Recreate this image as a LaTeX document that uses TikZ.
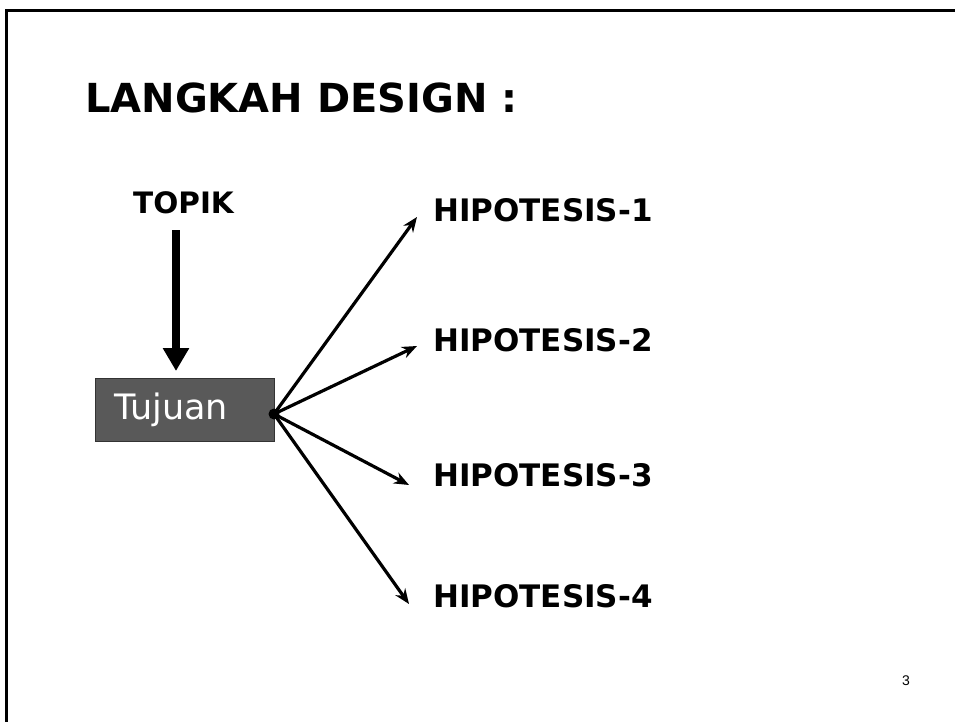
\documentclass[tikz,border=0pt]{standalone}
\usepackage{fontspec}
\setmainfont{DejaVu Sans}
\newfontfamily\numfont{Liberation Sans}
\usetikzlibrary{arrows.meta}
\begin{document}
\begin{tikzpicture}[x=1pt,y=-1pt,
  frameline/.style={line width=3pt, line cap=rect},
  label/.style={inner sep=0pt, anchor=base west, font=\bfseries\fontsize{31}{31}\selectfont},
  fan/.style={line width=3.2pt, -{Stealth[length=15pt,width=12pt]}},
  bigarrow/.style={line width=8pt, -{Triangle[length=23pt,width=25pt]}}]
\useasboundingbox (0,0) rectangle (955,722);
\draw[frameline] (955,11) -- (6,11) -- (6,725);
\node[label, font=\bfseries\fontsize{40}{40}\selectfont] (title) at (85,113) {LANGKAH DESIGN :};
\node[label, font=\bfseries\fontsize{29.5}{29.5}\selectfont] (topik) at (133,213) {TOPIK};
\node[draw=black!80, line width=0.6pt, fill=black!65, minimum width=179pt, minimum height=63pt, inner sep=0pt] (box) at (184.5,409.5) {};
\node[inner sep=0pt, anchor=base west, text=white, font=\fontsize{35}{35}\selectfont] (tuj) at (114,419) {Tujuan};
\node[circle, fill=black, inner sep=0pt, minimum size=11pt] (dot) at (274,414) {};
\node[label] (h1) at (433,222) {HIPOTESIS-1};
\node[label] (h2) at (433,351) {HIPOTESIS-2};
\node[label] (h3) at (433,486) {HIPOTESIS-3};
\node[label] (h4) at (433,607) {HIPOTESIS-4};
\node[inner sep=0pt, anchor=base west, font=\numfont\fontsize{14}{14}\selectfont] (pg) at (902,685) {3};
\coordinate (ta) at (176,230);
\coordinate (tb) at (176,371);
\draw[bigarrow] (ta) -- (tb);
\coordinate (t1) at (417,217);
\coordinate (t2) at (417,346);
\coordinate (t3) at (409,485);
\coordinate (t4) at (409,604);
\draw[fan] (dot.center) -- (t1);
\draw[fan] (dot.center) -- (t2);
\draw[fan] (dot.center) -- (t3);
\draw[fan] (dot.center) -- (t4);
\end{tikzpicture}
\end{document}
